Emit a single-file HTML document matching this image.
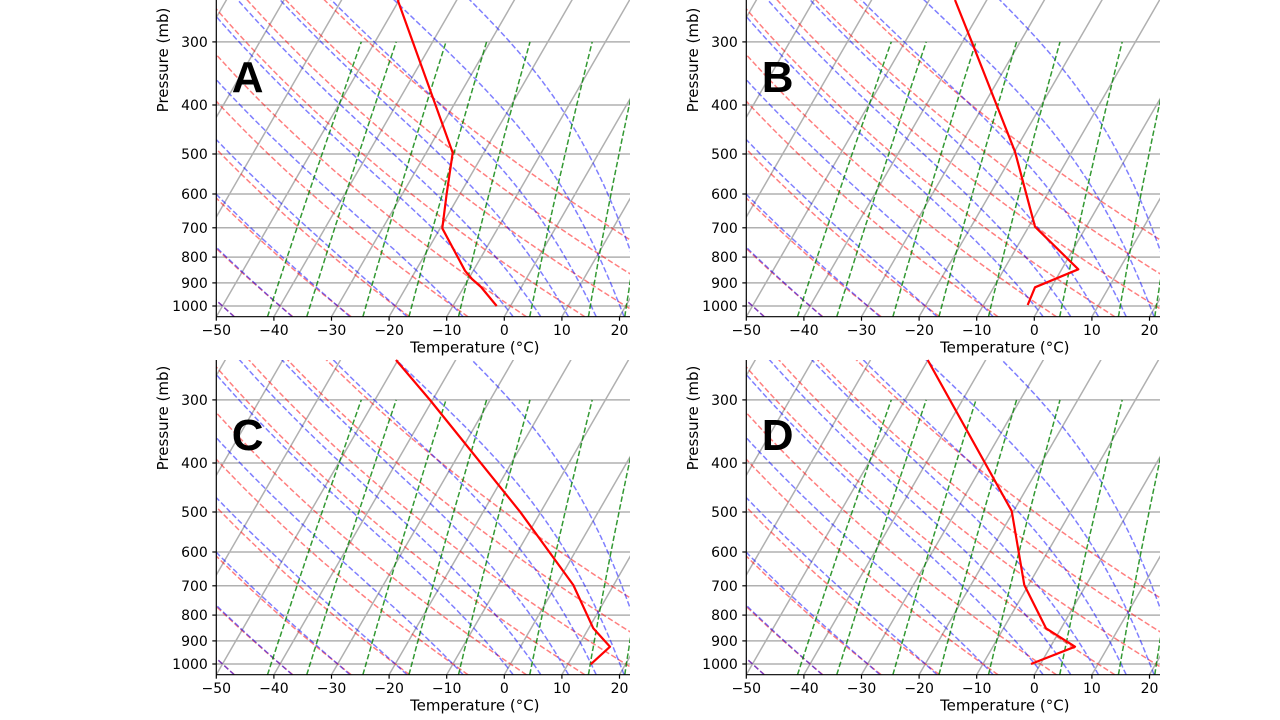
<!DOCTYPE html>
<html><head><meta charset="utf-8"><style>
html,body{margin:0;padding:0;background:#fff;}
svg{display:block;}
</style></head><body>
<svg id="s" width="1280" height="720" xmlns="http://www.w3.org/2000/svg" font-family="DejaVu Sans, Liberation Sans, sans-serif"></svg>
<script>
(function(){
var svg=document.getElementById('s');
var out='';
var K=505, SC=5.76, SK=0.5774;
function es(Tc){return 6.112*Math.exp(17.67*Tc/(Tc+243.5));}
function dTdp(p,T){var Tc=T-273.15;var e=es(Tc);var rs=0.622*e/(p-e);
 var Rd=287.04749,Cp=1004.6,Lv=2.501e6;
 return (Rd*T+Lv*rs)/(Cp+Lv*Lv*rs*0.622/(Rd*T*T))/p;}
function moist(t0){
 function integ(p0,p1,step){var T=t0+273.15,p=p0;var arr=[[p,T-273.15]];
  var n=Math.round(Math.abs(p1-p0)/step);var h=(p1-p0)/n;
  for(var i=0;i<n;i++){var k1=dTdp(p,T),k2=dTdp(p+h/2,T+h/2*k1),k3=dTdp(p+h/2,T+h/2*k2),k4=dTdp(p+h,T+h*k3);
   T+=h/6*(k1+2*k2+2*k3+k4);p+=h;arr.push([p,T-273.15]);}
  return arr;}
 var down=integ(1000,1050,2), up=integ(1000,100,4);
 return down.reverse().concat(up.slice(1));
}
var moistLines=[-50,-40,-30,-20,-10,-1,4,9,14,19,24].map(moist);
function panel(x0,y1000,bottom,top,letter){
 var right=x0+413.7;
 function Y(p){return y1000+K*Math.log10(p/1000);}
 function X(T,p){return x0+(T+50)*SC+SK*(bottom-Y(p));}
 var id='c'+letter;
 out+='<clipPath id="'+id+'"><rect x="'+x0+'" y="'+top+'" width="'+(right-x0)+'" height="'+(bottom-top)+'"/></clipPath>';
 out+='<g clip-path="url(#'+id+')">';
 for(var T=-160;T<=40;T+=10){out+='<line x1="'+X(T,1050).toFixed(1)+'" y1="'+bottom+'" x2="'+X(T,100).toFixed(1)+'" y2="'+Y(100).toFixed(1)+'" stroke="#b0b0b0" stroke-width="1.5"/>';}
 for(var p=300;p<=1000;p+=100){var y=Y(p).toFixed(1);out+='<line x1="'+x0+'" y1="'+y+'" x2="'+right+'" y2="'+y+'" stroke="#b0b0b0" stroke-width="1.5"/>';}
 function poly(pts,col,op,w){out+='<polyline fill="none" stroke="'+col+'" stroke-opacity="'+op+'" stroke-width="'+w+'" stroke-dasharray="5.5,2.5" points="'+pts.join(' ')+'"/>';}
 for(var th=-50;th<=40;th+=10){var pts=[];for(var p=1050;p>=100;p-=10){var t=(th+273.15)*Math.pow(p/1000,0.2857)-273.15;pts.push(X(t,p).toFixed(1)+','+Y(p).toFixed(1));}poly(pts,'#ff0000',0.5,1.5);}
 moistLines.forEach(function(a){var pts=a.map(function(q){return X(q[1],q[0]).toFixed(1)+','+Y(q[0]).toFixed(1);});poly(pts,'#0000ff',0.5,1.5);});
 [0.0001,0.0002,0.0005,0.001,0.002,0.005,0.01,0.015,0.02,0.03].forEach(function(w){var pts=[];for(var p=1050;p>=300;p-=10){var e=p*w/(0.622+w);var l=Math.log(e/6.112);var td=243.5*l/(17.67-l);pts.push(X(td,p).toFixed(1)+','+Y(p).toFixed(1));}poly(pts,'#008000',0.8,1.5);});
 out+='</g>';
 out+='<line x1="'+x0+'" y1="'+top+'" x2="'+x0+'" y2="'+bottom+'" stroke="#000" stroke-width="1.2"/>';
 out+='<line x1="'+x0+'" y1="'+bottom+'" x2="'+right+'" y2="'+bottom+'" stroke="#000" stroke-width="1.2"/>';
 for(var T=-50;T<=20;T+=10){var x=(x0+(T+50)*SC).toFixed(1);out+='<line x1="'+x+'" y1="'+bottom+'" x2="'+x+'" y2="'+(bottom+4)+'" stroke="#000" stroke-width="1.2"/>';
  out+='<text x="'+x+'" y="'+(bottom+18.5)+'" font-size="14" text-anchor="middle">'+(T<0?'\u2212'+(-T):T)+'</text>';}
 for(var p=300;p<=1000;p+=100){var y=Y(p);out+='<line x1="'+(x0-4)+'" y1="'+y.toFixed(1)+'" x2="'+x0+'" y2="'+y.toFixed(1)+'" stroke="#000" stroke-width="1.2"/>';
  out+='<text x="'+(x0-8.5)+'" y="'+(y+5).toFixed(1)+'" font-size="14" text-anchor="end">'+p+'</text>';}
 out+='<text x="'+(x0+258.5)+'" y="'+(bottom+36)+'" font-size="15" text-anchor="middle">Temperature (°C)</text>';
 var ly=top===0?60:418;
 out+='<text transform="translate('+(x0-48.5)+','+ly+') rotate(-90)" font-size="15" text-anchor="middle">Pressure (mb)</text>';
 out+='<text x="'+(x0+15.5)+'" y="'+(y1000-214)+'" font-size="44" font-weight="bold" font-family="Liberation Sans, sans-serif">'+letter+'</text>';
}
panel(216.3,306,316.7,0,'A');
panel(746.3,306,316.7,0,'B');
panel(216.3,664,674.7,360,'C');
panel(746.3,664,674.7,360,'D');
function prof(pts){out+='<polyline fill="none" stroke="#ff0000" stroke-width="2.2" stroke-linejoin="round" points="'+pts+'"/>';}
prof('397.7,0 452.7,152.7 446.5,195 442.3,228.3 465,270.7 472,279 481,287 496.7,306');
prof('955,0 971.7,41.7 1015,151.7 1035,226.7 1078.3,269.3 1035,287.3 1027.7,305');
prof('396,360 430,400 520,511.7 573.3,585 593.3,628.3 610,646.7 590.7,664.3');
prof('927.7,360 1011.7,511 1024.3,585 1046,628.3 1075,646.7 1031,664');
svg.innerHTML=out;
})();
</script>
</body></html>
